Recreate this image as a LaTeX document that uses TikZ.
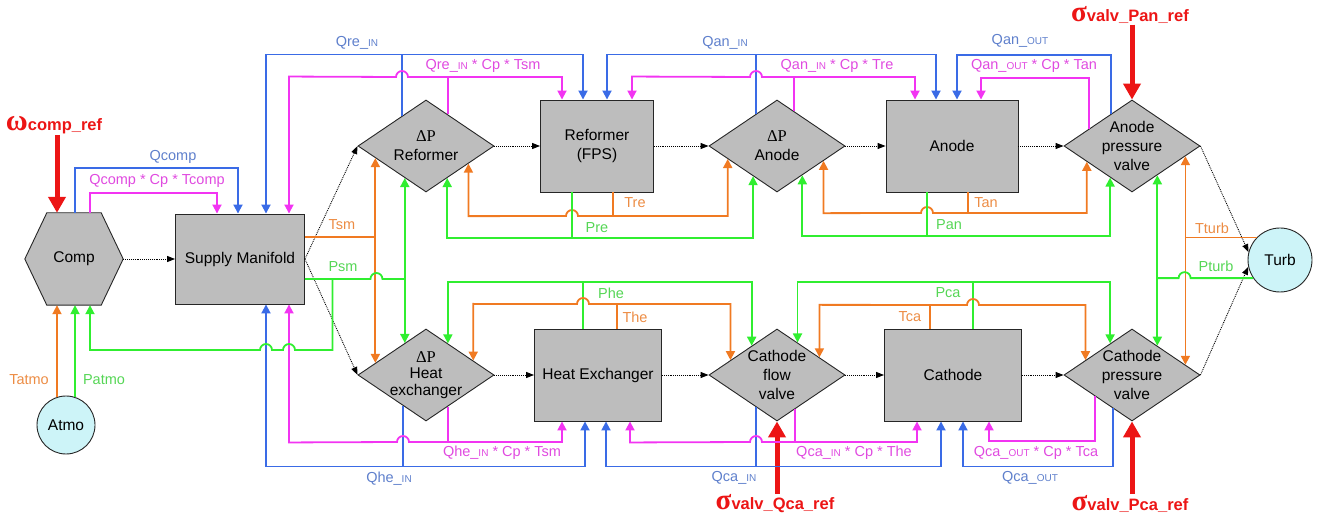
\documentclass[tikz,border=0pt]{standalone}
\usepackage{fontspec}
\setmainfont{Liberation Sans}
\newfontfamily\dpfont{Liberation Serif}
\usetikzlibrary{calc}
\usetikzlibrary{positioning}
\usetikzlibrary{shapes.geometric,arrows.meta,backgrounds}

\definecolor{qblue}{HTML}{3A6BE6}
\definecolor{qbluetxt}{HTML}{5F80CC}
\definecolor{qmag}{HTML}{F234F2}
\definecolor{qmagtxt}{HTML}{E04AE0}
\definecolor{qorange}{HTML}{F07A22}
\definecolor{qorangetxt}{HTML}{EC8C44}
\definecolor{qgreen}{HTML}{30EE30}
\definecolor{qgreentxt}{HTML}{55D655}
\definecolor{qred}{HTML}{EC1515}
\definecolor{blkgray}{HTML}{BDBDBD}
\definecolor{cyanfill}{HTML}{CDF4F8}
\newcommand{\lowcaps}[1]{{\fontsize{10}{10}\selectfont #1}}

\begin{document}
\begin{tikzpicture}[x=1pt, y=-1pt, >={Triangle[length=9pt,width=9pt]},
    blk/.style={rectangle, draw=black!85, fill=blkgray, line width=0.9pt, minimum height=92pt, align=center, font=\fontsize{15.5}{19}\selectfont},
    valve/.style={diamond, draw=black!85, fill=blkgray, line width=0.9pt, minimum width=136pt, minimum height=92pt, inner sep=0pt},
    vtext/.style={align=center, inner sep=0pt, font=\fontsize{15.5}{19}\selectfont},
    hexbox/.style={rectangle, minimum width=98pt, minimum height=92pt, inner sep=0pt, font=\fontsize{15.5}{19}\selectfont},
    ext/.style={circle, draw=black!85, fill=cyanfill, line width=0.9pt, inner sep=0pt, font=\fontsize{15.5}{19}\selectfont},
    lab/.style={inner sep=1pt, font=\fontsize{14.5}{17}\selectfont},
    blab/.style={lab, text=qbluetxt},
    mlab/.style={lab, text=qmagtxt},
    olab/.style={lab, text=qorangetxt},
    glab/.style={lab, text=qgreentxt},
    reflab/.style={inner sep=1pt, text=qred, font=\bfseries\fontsize{16.5}{19}\selectfont},
    bl/.style={draw=qblue, line width=1.8pt},
    mg/.style={draw=qmag, line width=1.8pt},
    or/.style={draw=qorange, line width=1.8pt},
    gr/.style={draw=qgreen, line width=1.8pt},
    dot/.style={densely dotted, line width=0.9pt, -{Triangle[length=8pt,width=6pt]}},
    redarr/.style={draw=qred, line width=5pt, -{Triangle[length=16pt,width=17pt]}}]
    \useasboundingbox (0,0) rectangle (1325,518);

    % blocks
    \node [hexbox] (comp) at (74,259) {Comp};
    \begin{scope}[on background layer]
        \filldraw [draw=black!85, fill=blkgray, line width=0.9pt] ([xshift=22pt]comp.north west) -- ([xshift=-22pt]comp.north east) -- (comp.east) -- ([xshift=-22pt]comp.south east) -- ([xshift=22pt]comp.south west) -- (comp.west) -- cycle;
    \end{scope}
    \node [blk, minimum width=129pt, minimum height=90pt] (sm) at (240,259) {Supply Manifold};
    \node [blk, minimum width=113pt] (ref) at (597,146) {Reformer\\(FPS)};
    \node [blk, minimum width=132pt] (an) at (952,146) {Anode};
    \node [blk, minimum width=127pt] (hx) at (598,375) {Heat Exchanger};
    \node [blk, minimum width=137pt] (ca) at (953,375) {Cathode};
    \node [ext, minimum size=58pt] (atmo) at (66,425) {Atmo};
    \node [ext, minimum size=64pt] (turb) at (1280,260) {Turb};

    % valves
    \node [valve, label={[vtext]center:{{\dpfont\fontsize{16.5}{19}\selectfont ΔP}\\Reformer}}] (dpref) at (426,146) {};
    \node [valve, label={[vtext]center:{{\dpfont\fontsize{16.5}{19}\selectfont ΔP}\\Anode}}] (dpan) at (777,146) {};
    \node [valve, label={[vtext]center:{Anode\\pressure\\valve}}] (apv) at (1132,146) {};
    \node [valve, label={[vtext, font=\fontsize{15.5}{16.5}\selectfont]center:{{\dpfont\fontsize{16.5}{16.5}\selectfont ΔP}\\Heat\\exchanger}}] (dphx) at (426,375) {};
    \node [valve, label={[vtext]center:{Cathode\\flow\\valve}}] (cfv) at (777,375) {};
    \node [valve, label={[vtext]center:{Cathode\\pressure\\valve}}] (cpv) at (1132,375) {};

    % references
    \node [reflab] (wref) at (54,125) {{\dpfont\fontsize{30}{30}\selectfont ω}comp\_ref};
    \node [reflab] (sigpan) at (1130,15) {{\dpfont\fontsize{29}{29}\selectfont σ}valv\_Pan\_ref};
    \node [reflab] (sigqca) at (775,504) {{\dpfont\fontsize{29}{29}\selectfont σ}valv\_Qca\_ref};
    \node [reflab] (sigpca) at (1130,504) {{\dpfont\fontsize{29}{29}\selectfont σ}valv\_Pca\_ref};
    \coordinate (wtip) at ([xshift=-17pt]comp.north);
    \draw [redarr] (wtip |- wref.south) -- (wtip);
    \draw [redarr] (sigpan.south -| apv.north) -- (apv.north);
    \draw [redarr] (sigqca.north -| cfv.south) -- (cfv.south);
    \draw [redarr] (sigpca.north -| cpv.south) -- (cpv.south);

    % gas path
    \draw [dot] (comp.east) -- (sm.west);
    \draw [dot] (sm.east) -- (dpref.west);
    \draw [dot] (sm.east) -- (dphx.west);
    \draw [dot] (dpref.east) -- (ref.west);
    \draw [dot] (ref.east) -- (dpan.west);
    \draw [dot] (dpan.east) -- (an.west);
    \draw [dot] (an.east) -- (apv.west);
    \draw [dot] (apv.east) -- (turb.166);
    \draw [dot] (dphx.east) -- (hx.west);
    \draw [dot] (hx.east) -- (cfv.west);
    \draw [dot] (cfv.east) -- (ca.west);
    \draw [dot] (ca.east) -- (cpv.west);
    \draw [dot] (cpv.east) -- (turb.192);

    % flows into supply manifold
    \draw [bl,->] ([xshift=1pt]comp.north) -- ++(0,-45) -| ([xshift=-2pt]sm.north);
    \draw [mg,->] ([xshift=16pt]comp.north) -- ++(0,-20) -| ([xshift=-23pt]sm.north);

    % reformer inlet
    \draw [bl,<->] ([xshift=26pt]sm.north) -- ++(0,-159) -| ([xshift=-14pt]ref.north);
    \draw [bl] ($(dpref.west)!0.65!(dpref.north)$) -- ++(0,-61);
    \draw [mg,<->] ([xshift=49pt]sm.north) -- ++(0,-137) -- (396,77) arc[start angle=180,end angle=360,radius=6] -| ([xshift=-35pt]ref.north);
    \draw [mg] ($(dpref.east)!0.68!(dpref.north)$) -- ++(0,-38);

    % anode inlet
    \draw [bl,<->] ([xshift=10pt]ref.north) -- ++(0,-45) -| ([xshift=-16pt]an.north);
    \draw [bl] ($(dpan.west)!0.69!(dpan.north)$) -- ++(0,-59);
    \draw [mg,<->] ([xshift=35pt]ref.north) -- ++(0,-23) -- (750,77) arc[start angle=180,end angle=360,radius=6] -| ([xshift=-37pt]an.north);
    \draw [mg] ($(dpan.east)!0.75!(dpan.north)$) -- ++(0,-34.5);

    % anode outlet
    \draw [bl,->] ($(apv.west)!0.69!(apv.north)$) -- ++(0,-59) -| ([xshift=5pt]an.north);
    \draw [mg,->] ($(apv.west)!0.37!(apv.north)$) -- ++(0,-51) -| ([xshift=29pt]an.north);

    % heat exchanger inlet
    \draw [bl,<->] ([xshift=26pt]sm.south) -- ++(0,162) -| ([xshift=-13pt]hx.south);
    \draw [bl] ($(dphx.west)!0.66!(dphx.south)$) -- ++(0,61);
    \draw [mg,<->] ([xshift=49pt]sm.south) -- ++(0,138) -- (397,442) arc[start angle=180,end angle=360,radius=6] -| ([xshift=-36pt]hx.south);
    \draw [mg] ($(dphx.east)!0.68!(dphx.south)$) -- ++(0,36);

    % cathode inlet
    \draw [bl,<->] ([xshift=8pt]hx.south) -- ++(0,45) -| ([xshift=-12pt]ca.south);
    \draw [bl] ($(cfv.west)!0.69!(cfv.south)$) -- ++(0,59);
    \draw [mg,<->] ([xshift=32pt]hx.south) -- ++(0,21) -- (750,442) arc[start angle=180,end angle=360,radius=6] -| ([xshift=-36pt]ca.south);
    \draw [mg] ($(cfv.east)!0.74!(cfv.south)$) -- ++(0,33);

    % cathode outlet
    \draw [bl,->] ($(cpv.west)!0.72!(cpv.south)$) -- ++(0,58) -| ([xshift=10pt]ca.south);
    \draw [mg,->] ($(cpv.west)!0.46!(cpv.south)$) -- ++(0,45) -| ([xshift=36pt]ca.south);

    % atmosphere
    \draw [or,->] (atmo.108) -- ([xshift=-17pt]comp.south);
    \draw [gr,->] (atmo.72) -- ([xshift=1pt]comp.south);

    % manifold temperature and pressure
    \draw [or] ([yshift=22pt]sm.east) -- ++(71,0);
    \draw [or,<->] ($(dpref.west)!0.26!(dpref.south)$) -- ($(dphx.west)!0.26!(dphx.north)$);
    \draw [gr] ([yshift=-20pt]sm.east) -- ++(65.5,0) arc[start angle=180,end angle=360,radius=6] -- ++(23,0);
    \draw [gr,<->] ($(dpref.west)!0.69!(dpref.south)$) -- ($(dphx.west)!0.69!(dphx.north)$);
    \draw [gr,->] ([xshift=27.5pt,yshift=-20pt]sm.east) -- ++(0,71) -- (295,350) arc[start angle=0,end angle=-180,radius=6] -- (272,350) arc[start angle=0,end angle=-180,radius=6] -| ([xshift=16pt]comp.south);

    % reformer outputs
    \draw [or,<->] ($(dpref.east)!0.38!(dpref.south)$) -- ++(0,52.5) -- (566,216) arc[start angle=180,end angle=360,radius=6] -| ($(dpan.west)!0.28!(dpan.south)$);
    \draw [or] ([xshift=16pt]ref.south) -- ++(0,24);
    \draw [gr,<->] ($(dpref.east)!0.69!(dpref.south)$) -- ++(0,60.3) -| ($(dpan.west)!0.65!(dpan.south)$);
    \draw [gr] ([xshift=-25pt]ref.south) -- ++(0,46);

    % anode outputs
    \draw [or,<->] ($(dpan.east)!0.32!(dpan.south)$) -- ++(0,52.3) -- (921,213) arc[start angle=180,end angle=360,radius=6] -| ($(apv.west)!0.34!(apv.south)$);
    \draw [or] ([xshift=16pt]an.south) -- ++(0,21);
    \draw [gr,<->] ($(dpan.east)!0.63!(dpan.south)$) -- ++(0,61) -| ($(apv.west)!0.68!(apv.south)$);
    \draw [gr] ([xshift=-25pt]an.south) -- ++(0,44);

    % turbine
    \draw [or,<->] ($(apv.east)!0.22!(apv.south)$) -- ($(cpv.east)!0.22!(cpv.north)$);
    \draw [or] (turb.136) -- ++(-72,0);
    \draw [gr,<->] ($(apv.east)!0.63!(apv.south)$) -- ($(cpv.east)!0.63!(cpv.north)$);
    \draw [gr] (turb.214) -- ++(-62.5,0) arc[start angle=0,end angle=-180,radius=6] -- ++(-22,0);

    % heat exchanger outputs
    \draw [gr,<->] ($(dphx.east)!0.68!(dphx.north)$) -- ++(0,-61.7) -| ($(cfv.west)!0.63!(cfv.north)$);
    \draw [gr] ([xshift=-15pt]hx.north) -- ++(0,-47);
    \draw [or,<->] ($(dphx.east)!0.31!(dphx.north)$) -- ++(0,-56.7) -- (577,304) arc[start angle=180,end angle=360,radius=6] -| ($(cfv.west)!0.32!(cfv.north)$);
    \draw [or] ([xshift=19pt]hx.north) -- ++(0,-25);

    % cathode outputs
    \draw [gr,<->] ($(cfv.east)!0.7!(cfv.north)$) -- ++(0,-60.8) -| ($(cpv.west)!0.68!(cpv.north)$);
    \draw [gr] ([xshift=20pt]ca.north) -- ++(0,-47);
    \draw [or,<->] ($(cfv.east)!0.38!(cfv.north)$) -- ++(0,-52.5) -- (967,305) arc[start angle=180,end angle=360,radius=6] -| ($(cpv.west)!0.32!(cpv.north)$);
    \draw [or] ([xshift=-23pt]ca.north) -- ++(0,-24);

    % signal labels
    \node [blab] (lqcomp) at (173,157) {Qcomp};
    \node [mlab] (lhcomp) at (157,181) {Qcomp * Cp * Tcomp};
    \node [blab] (lqre) at (357,43) {Qre\_\lowcaps{IN}};
    \node [mlab] (lhre) at (483,66) {Qre\_\lowcaps{IN} * Cp * Tsm};
    \node [blab] (lqan) at (725,43) {Qan\_\lowcaps{IN}};
    \node [mlab] (lhan) at (837,66) {Qan\_\lowcaps{IN} * Cp * Tre};
    \node [blab] (lqanout) at (1020,41) {Qan\_\lowcaps{OUT}};
    \node [mlab] (lhanout) at (1034,66) {Qan\_\lowcaps{OUT} * Cp * Tan};
    \node [olab] (ltsm) at (342,225) {Tsm};
    \node [glab] (lpsm) at (343,267) {Psm};
    \node [olab] (ltre) at (635,203) {Tre};
    \node [glab] (lpre) at (597,228) {Pre};
    \node [olab] (ltan) at (986,203) {Tan};
    \node [glab] (lpan) at (949,225) {Pan};
    \node [olab] (ltturb) at (1212,228) {Tturb};
    \node [glab] (lpturb) at (1216,266) {Pturb};
    \node [glab] (lphe) at (611,293) {Phe};
    \node [olab] (lthe) at (635,317) {The};
    \node [glab] (lpca) at (948,293) {Pca};
    \node [olab] (ltca) at (910,317) {Tca};
    \node [olab] (ltatmo) at (29,380) {Tatmo};
    \node [glab] (lpatmo) at (104,380) {Patmo};
    \node [mlab] (lhhe) at (502,453) {Qhe\_\lowcaps{IN} * Cp * Tsm};
    \node [blab] (lqhe) at (389,479) {Qhe\_\lowcaps{IN}};
    \node [mlab] (lhca) at (854,453) {Qca\_\lowcaps{IN} * Cp * The};
    \node [blab] (lqca) at (734,478) {Qca\_\lowcaps{IN}};
    \node [mlab] (lhcaout) at (1036,453) {Qca\_\lowcaps{OUT} * Cp * Tca};
    \node [blab] (lqcaout) at (1030,478) {Qca\_\lowcaps{OUT}};
\end{tikzpicture}
\end{document}
